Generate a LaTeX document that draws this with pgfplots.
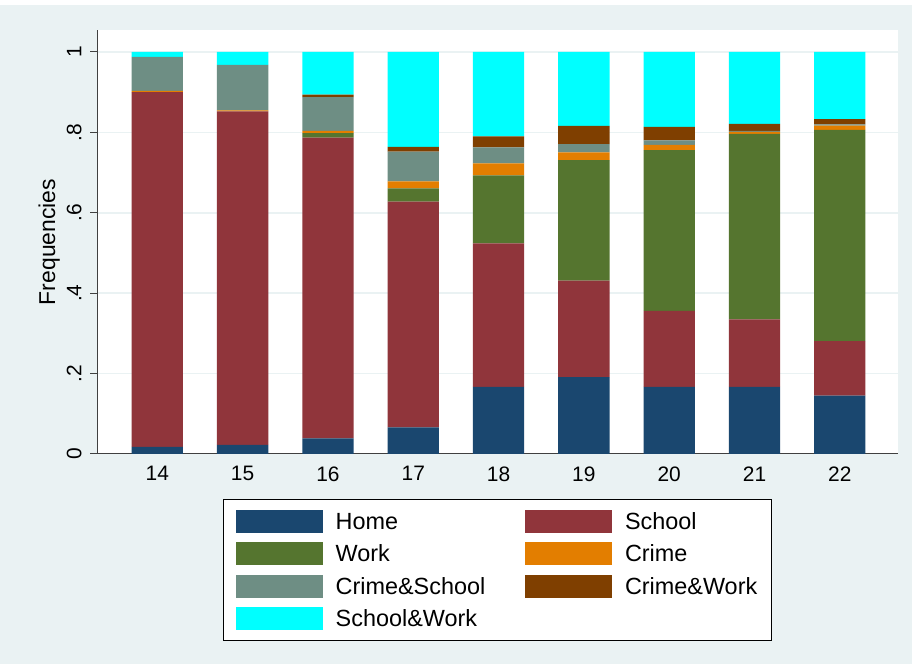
\documentclass[border=0pt]{standalone}
\usepackage{pgfplots}
\pgfplotsset{compat=1.18}
\usepackage{pgfplotstable}
\usepackage{fontspec}
\setmainfont{Liberation Sans}
\definecolor{bgc}{RGB}{234,242,243}
\definecolor{cHome}{RGB}{26,71,111}
\definecolor{cSchool}{RGB}{144,53,59}
\definecolor{cWork}{RGB}{85,117,47}
\definecolor{cCrime}{RGB}{227,126,0}
\definecolor{cCS}{RGB}{110,142,132}
\definecolor{cCW}{RGB}{127,63,0}
\definecolor{cSW}{RGB}{0,255,255}
\pgfplotstableread{
x Home School Work Crime CS CW SW
14 .018 .882 0 .003 .085 0 .012
15 .023 .829 0 .003 .113 0 .032
16 .039 .748 .011 .006 .084 .006 .106
17 .066 .562 .033 .017 .074 .012 .236
18 .167 .357 .169 .030 .040 .027 .210
19 .191 .240 .300 .019 .021 .045 .184
20 .167 .189 .400 .013 .011 .034 .186
21 .167 .168 .461 .005 .003 .017 .179
22 .145 .136 .525 .011 .003 .013 .167
}\datatable
\begin{document}
\begin{tikzpicture}
\useasboundingbox (0,0) rectangle (912bp,664bp);
\fill[white] (0,0) rectangle (912bp,664bp);
\fill[bgc] (0,0) rectangle (912bp,659bp);
\begin{axis}[
  at={(97bp,210bp)}, anchor=south west,
  scale only axis, width=801bp, height=424bp,
  ybar stacked, bar width=51.3bp,
  xmin=13.293, xmax=22.682, ymin=0, ymax=1.0547,
  enlargelimits=false,
  axis background/.style={fill=white},
  axis lines*=left,
  axis line style={black!75, line width=1bp},
  xtick={14,...,22}, xtick style={draw=none},
  ytick={0,0.2,0.4,0.6,0.8,1}, yticklabels={0,.2,.4,.6,.8,1},
  ytick style={black!75, line width=1bp},
  tick align=outside, major tick length=7bp,
  ymajorgrids, grid style={bgc, line width=1.5bp},
  /pgf/number format/assume math mode=true,
  tick label style={font=\fontsize{21}{21}\selectfont, black},
  yticklabel style={rotate=90, anchor=south},
  yticklabel shift=5bp,
  xticklabel shift=2bp,
  ylabel={Frequencies},
  ylabel style={at={(axis description cs:-0.0524,0.5)}, anchor=base, font=\fontsize{23}{23}\selectfont},
  legend columns=2,
  legend cell align=left,
  legend style={at={(axis description cs:0.1573,-0.1061)}, anchor=north west,
    draw=black, line width=1bp, fill=white,
    inner xsep=12bp, inner ysep=8bp, row sep=5bp,
    font=\fontsize{23.5}{23.5}\selectfont,
    nodes={inner sep=2bp, text height=20bp, text depth=3.5bp},
    /tikz/every odd column/.append style={column sep=11.2bp},
    /tikz/every even column/.append style={column sep=37.5bp}},
  mylegend/.style={legend image code/.code={\fill[##1] (0bp,-11.5bp) rectangle (87bp,11.5bp);}},
]
\addplot[fill=cHome, draw=none, mylegend] table[x=x, y=Home] {\datatable};
\addplot[fill=cSchool, draw=none, mylegend] table[x=x, y=School] {\datatable};
\addplot[fill=cWork, draw=none, mylegend] table[x=x, y=Work] {\datatable};
\addplot[fill=cCrime, draw=none, mylegend] table[x=x, y=Crime] {\datatable};
\addplot[fill=cCS, draw=none, mylegend] table[x=x, y=CS] {\datatable};
\addplot[fill=cCW, draw=none, mylegend] table[x=x, y=CW] {\datatable};
\addplot[fill=cSW, draw=none, mylegend] table[x=x, y=SW] {\datatable};
\legend{Home, School, Work, Crime, Crime\&School, Crime\&Work, School\&Work}
\end{axis}
\end{tikzpicture}
\end{document}
